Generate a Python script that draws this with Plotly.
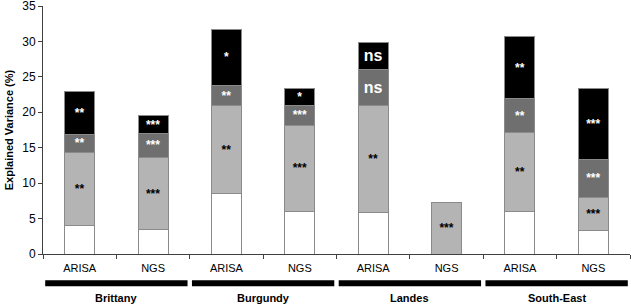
import plotly.graph_objects as go

regions = ["Brittany", "Burgundy", "Landes", "South-East"]
methods = ["ARISA", "NGS"] * 4
cat_ids = [f"{r} {m}" for r in regions for m in ["ARISA", "NGS"]]

seg_white = [4.0, 3.4, 8.5, 6.0, 5.9, None, 6.0, 3.25]
seg_light = [10.3, 10.25, 12.4, 12.2, 15.0, 7.3, 11.1, 4.75]
seg_dark = [2.6, 3.35, 2.9, 2.8, 5.1, None, 4.8, 5.4]
seg_black = [6.1, 2.5, 7.9, 2.4, 3.9, None, 8.8, 10.0]

txt_light = ["**", "***", "**", "***", "**", "***", "**", "***"]
txt_dark = ["**", "***", "**", "***", "ns", "", "**", "***"]
txt_black = ["**", "***", "*", "*", "ns", "", "**", "***"]

y_ticks = [0, 5, 10, 15, 20, 25, 30, 35]

def sizes(t):
    return [16 if s == "ns" else 12 for s in t]

fig = go.Figure()
specs = [
    (seg_white, None, "#ffffff", "#000000"),
    (seg_light, txt_light, "#b4b4b4", "#000000"),
    (seg_dark, txt_dark, "#6f6f6f", "#ffffff"),
    (seg_black, txt_black, "#000000", "#ffffff"),
]
for vals, txt, col, tcol in specs:
    fig.add_trace(go.Bar(
        x=cat_ids, y=vals, width=0.41,
        marker=dict(color=col, line=dict(color="#8a8a8a", width=1)),
        text=txt, textposition="inside" if txt else "none",
        insidetextanchor="middle", constraintext="none", textangle=0,
        textfont=dict(color=tcol, size=sizes(txt) if txt else 12,
                      family="Liberation Sans, Arial", weight="bold"),
        showlegend=False, hoverinfo="skip",
    ))

fig.update_layout(
    barmode="stack",
    width=631, height=306,
    margin=dict(l=43, r=1, t=6, b=52, autoexpand=False),
    plot_bgcolor="white", paper_bgcolor="white",
    font=dict(family="Liberation Sans, Arial", size=11, color="#000000"),
)
fig.update_xaxes(
    type="category", tickmode="array", tickvals=cat_ids, ticktext=methods,
    tickson="boundaries", ticks="outside", ticklen=4, tickcolor="#404040",
    showline=True, linecolor="#404040", linewidth=1, ticklabelstandoff=4,
    tickfont=dict(size=11), range=[-0.5, 7.5], showgrid=False, automargin=False,
)
fig.update_yaxes(
    range=[0, 35], tickmode="array", tickvals=y_ticks, ticks="outside",
    ticklen=4, tickcolor="#404040", automargin=False, ticklabeloverflow="allow",
    showline=True, linecolor="#404040", linewidth=1, showgrid=False,
    tickfont=dict(size=12),
    title=dict(text="<b>Explained Variance (%)</b>", font=dict(size=11), standoff=6),
)

for i, r in enumerate(regions):
    fig.add_shape(type="line", xref="x", yref="paper",
                  x0=2 * i - 0.47, x1=2 * i + 1.47, y0=-0.118, y1=-0.118,
                  line=dict(color="black", width=6))
    fig.add_annotation(x=2 * i + 0.5, y=-0.178, xref="x", yref="paper",
                       text=f"<b>{r}</b>", showarrow=False,
                       font=dict(size=11), yanchor="middle")

fig.write_html("out.html", config={"displayModeBar": False},
               post_script="document.body.style.margin='0';")
